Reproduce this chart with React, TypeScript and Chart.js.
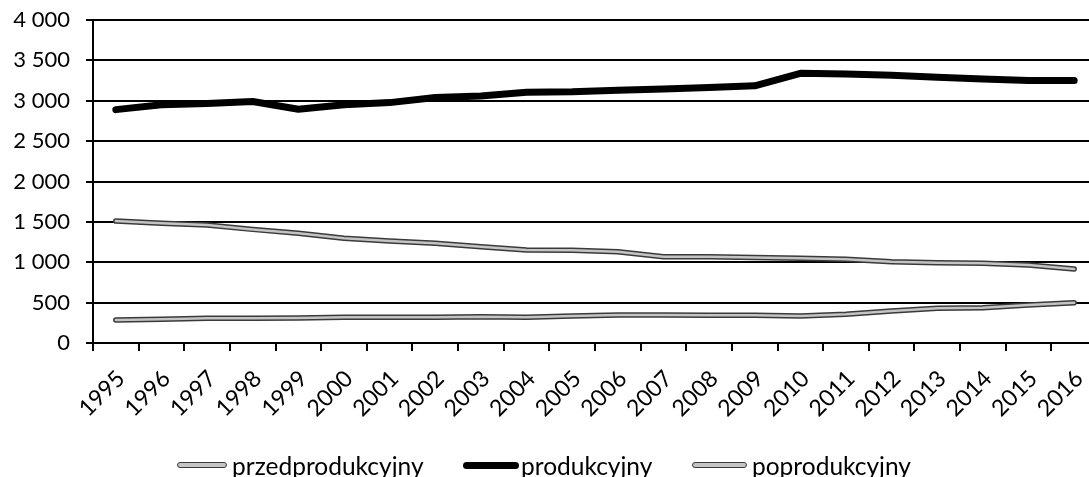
import React, { useEffect, useRef } from "react";
import { Chart, registerables } from "chart.js";

Chart.register(...registerables);

const years = [
  "1995", "1996", "1997", "1998", "1999", "2000", "2001", "2002", "2003", "2004", "2005",
  "2006", "2007", "2008", "2009", "2010", "2011", "2012", "2013", "2014", "2015", "2016",
];
const przedprodukcyjny = [
  1510, 1482, 1460, 1407, 1358, 1296, 1263, 1234, 1192, 1151, 1150,
  1130, 1068, 1068, 1060, 1048, 1036, 1007, 995, 987, 965, 916,
];
const produkcyjny = [
  2890, 2950, 2965, 2990, 2895, 2950, 2977, 3040, 3060, 3105, 3110,
  3130, 3145, 3165, 3185, 3340, 3330, 3315, 3290, 3270, 3250, 3250,
];
const poprodukcyjny = [
  285, 293, 305, 305, 310, 318, 318, 318, 326, 318, 335,
  347, 347, 345, 345, 335, 355, 396, 430, 437, 470, 499,
];
const seriesNames = ["przedprodukcyjny", "produkcyjny", "poprodukcyjny"];

const FONT = "Lato, 'Open Sans', sans-serif";

const fmt = (v: number) => String(v).replace(/\B(?=(\d{3})+(?!\d))/g, " ");

export default function App() {
  const ref = useRef<HTMLCanvasElement | null>(null);

  useEffect(() => {
    if (!ref.current) return;
    Chart.defaults.font.family = FONT;
    Chart.defaults.color = "#000";
    const outline = (data: number[], order: number) => ({
      data,
      borderColor: "#3a3a3a",
      borderWidth: 5.5,
      pointRadius: 0,
      borderCapStyle: "round" as const,
      borderJoinStyle: "round" as const,
      tension: 0,
      order,
    });
    const inner = (data: number[], order: number) => ({
      data,
      borderColor: "#c4c4c4",
      borderWidth: 2.5,
      pointRadius: 0,
      borderCapStyle: "round" as const,
      borderJoinStyle: "round" as const,
      tension: 0,
      order,
    });
    const chart = new Chart(ref.current, {
      type: "line",
      data: {
        labels: years,
        datasets: [
          { label: seriesNames[0], ...outline(przedprodukcyjny, 5) },
          { label: seriesNames[0] + "_in", ...inner(przedprodukcyjny, 4) },
          { label: seriesNames[2], ...outline(poprodukcyjny, 3) },
          { label: seriesNames[2] + "_in", ...inner(poprodukcyjny, 2) },
          {
            label: seriesNames[1],
            data: produkcyjny,
            borderColor: "#000",
            borderWidth: 7,
            pointRadius: 0,
            borderCapStyle: "round",
            borderJoinStyle: "round",
            tension: 0,
            order: 1,
          },
        ],
      },
      options: {
        responsive: false,
        animation: false,
        layout: { padding: { top: 20, right: 3, bottom: 0, left: 0 } },
        plugins: { legend: { display: false }, tooltip: { enabled: false } },
        scales: {
          x: {
            type: "category",
            offset: true,
            grid: {
              offset: true,
              drawOnChartArea: false,
              drawTicks: true,
              tickLength: 8,
              color: "#000",
              lineWidth: 2,
            },
            border: { display: true, color: "#000", width: 2 },
            ticks: {
              autoSkip: false,
              minRotation: 45,
              maxRotation: 45,
              padding: 14,
              labelOffset: 5,
              font: { size: 23, family: FONT },
              color: "#000",
            },
            afterFit: (s: any) => {
              s.height = 134;
              s.paddingLeft = 0;
              s.paddingRight = 0;
            },
          },
          y: {
            min: 0,
            max: 4000,
            grid: {
              color: "#000",
              lineWidth: 2,
              drawTicks: true,
              tickLength: 7,
            },
            border: { display: true, color: "#000", width: 2 },
            ticks: {
              stepSize: 500,
              padding: 16,
              font: { size: 22, family: FONT },
              color: "#000",
              callback: (v: any) => fmt(Number(v)),
            },
            afterFit: (s: any) => {
              s.width = 93;
              s.paddingTop = 0;
              s.paddingBottom = 0;
            },
          },
        },
      },
    });
    return () => chart.destroy();
  }, []);

  const grey = {
    position: "absolute" as const,
    top: 462,
    height: 4,
    background: "#c4c4c4",
    border: "1.5px solid #3a3a3a",
    borderRadius: 4,
  };
  const text = {
    position: "absolute" as const,
    top: 454,
    fontFamily: FONT,
    fontSize: 24.5,
    lineHeight: "24px",
    color: "#000",
    whiteSpace: "nowrap" as const,
  };

  return (
    <div
      style={{
        position: "absolute",
        left: 0,
        top: 0,
        width: 1089,
        height: 477,
        overflow: "hidden",
        background: "#fff",
      }}
    >
      <canvas ref={ref} width={1100} height={477} style={{ display: "block" }} />
      <div style={{ ...grey, left: 177, width: 48 }} />
      <span style={{ ...text, left: 232 }}>{seriesNames[0]}</span>
      <div
        style={{
          position: "absolute",
          top: 462,
          left: 463,
          width: 56,
          height: 7,
          background: "#000",
          borderRadius: 4,
        }}
      />
      <span style={{ ...text, left: 521 }}>{seriesNames[1]}</span>
      <div style={{ ...grey, left: 692, width: 53 }} />
      <span style={{ ...text, left: 752 }}>{seriesNames[2]}</span>
    </div>
  );
}
